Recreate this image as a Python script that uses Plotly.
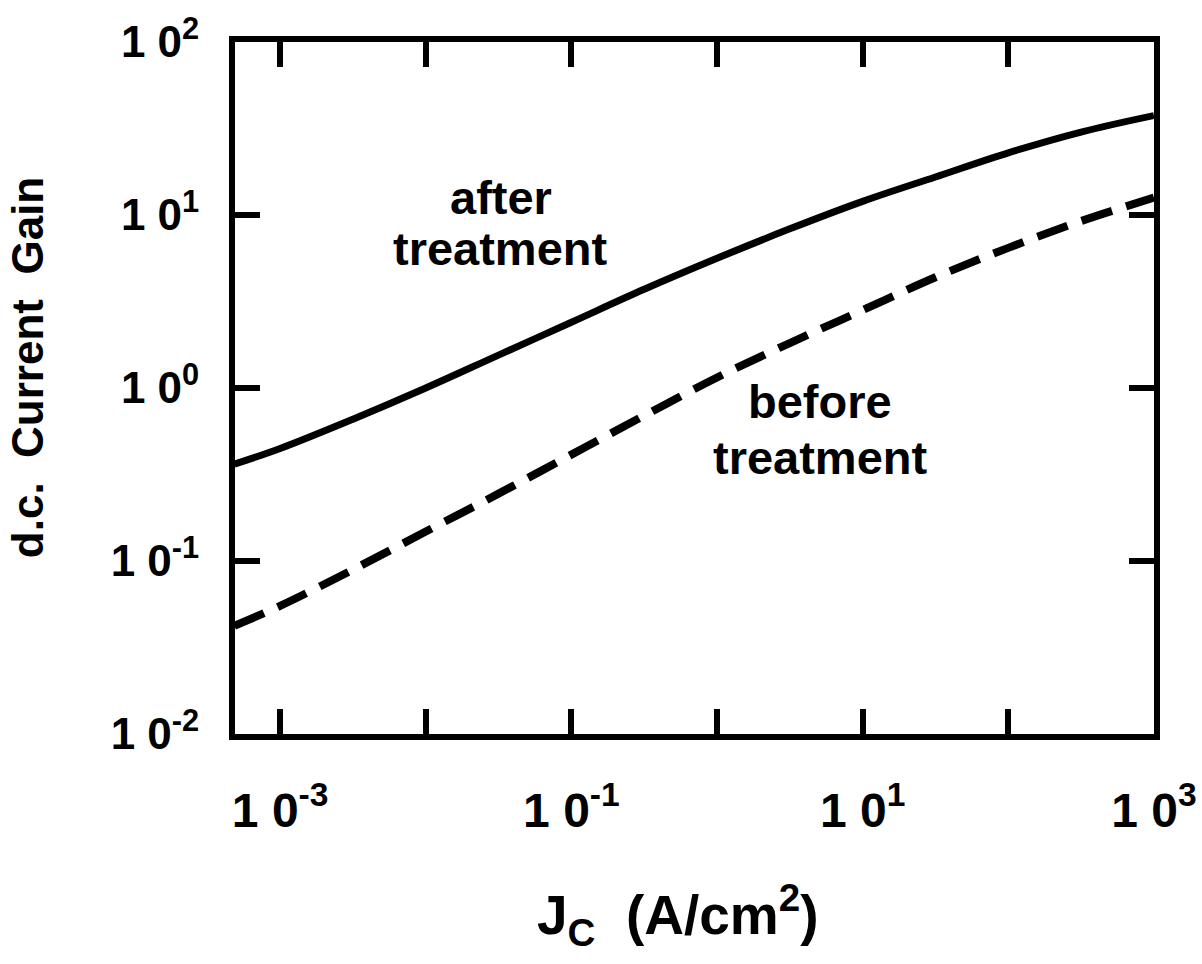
import plotly.graph_objects as go

# Current density J_C (A/cm^2)
jc = [0.000485, 0.001, 0.00316, 0.01, 0.0316, 0.1, 0.316, 1.0, 3.16, 10.0, 31.6, 100.0, 316.0, 1000.0]
# d.c. current gain after treatment (solid)
gain_after = [0.363, 0.447, 0.66, 1.0, 1.55, 2.40, 3.72, 5.62, 8.32, 12.0, 16.6, 22.9, 30.2, 37.6]
# d.c. current gain before treatment (dashed)
gain_before = [0.0422, 0.055, 0.0891, 0.148, 0.245, 0.412, 0.692, 1.15, 1.82, 2.82, 4.37, 6.46, 9.23, 12.6]

x_tickvals = [1e-3, 1e-2, 1e-1, 1e0, 1e1, 1e2, 1e3]
x_ticktext = ["1 0<sup>-3</sup>", "", "1 0<sup>-1</sup>", "", "1 0<sup>1</sup>", "", "1 0<sup>3</sup>"]
y_tickvals = [1e-2, 1e-1, 1e0, 1e1, 1e2]
y_ticktext = ["1 0<sup>-2</sup>", "1 0<sup>-1</sup>", "1 0<sup>0</sup>", "1 0<sup>1</sup>", "1 0<sup>2</sup>"]

FONT = "Liberation Sans, Arial, Helvetica, sans-serif"

fig = go.Figure()
fig.add_trace(go.Scatter(x=jc, y=gain_after, mode="lines", name="after treatment",
                         line=dict(color="black", width=7, shape="spline", smoothing=1.0)))
fig.add_trace(go.Scatter(x=jc, y=gain_before, mode="lines", name="before treatment",
                         line=dict(color="black", width=8, dash="32px,15px", shape="spline", smoothing=1.0)))

axis_common = dict(showline=True, linecolor="black", linewidth=6, mirror="ticks",
                   ticks="inside", ticklen=25, tickwidth=6, tickcolor="black",
                   showgrid=False, zeroline=False)

fig.update_xaxes(type="log", range=[-3.31, 3.0005], tickvals=x_tickvals, ticktext=x_ticktext,
                 tickfont=dict(family=FONT, size=48, color="black", weight="bold"),
                 ticklabelstandoff=29, **axis_common)
fig.update_yaxes(type="log", range=[-2.0005, 2.0005], tickvals=y_tickvals, ticktext=y_ticktext,
                 tickfont=dict(family=FONT, size=44, color="black", weight="bold"),
                 ticklabelstandoff=21, **axis_common)

ann_font = dict(family=FONT, size=47, color="black", weight="bold")
for txt, ax, ay in [("after", 0.289, 0.776), ("treatment", 0.289, 0.702),
                    ("before", 0.637, 0.480), ("treatment", 0.637, 0.400)]:
    fig.add_annotation(text=txt, x=ax, y=ay, xref="paper", yref="paper",
                       xanchor="center", yanchor="middle", showarrow=False, font=ann_font)

fig.add_annotation(text="d.c.  Current  Gain", textangle=-90, x=-0.225, y=0.529,
                   xref="paper", yref="paper", showarrow=False,
                   xanchor="center", yanchor="middle",
                   font=dict(family=FONT, size=44, color="black", weight="bold"))
fig.add_annotation(text="J<sub>C</sub>  (A/cm<sup>2</sup>)", x=0.482, y=-0.262,
                   xref="paper", yref="paper", showarrow=False,
                   xanchor="center", yanchor="middle",
                   font=dict(family=FONT, size=55, color="black", weight="bold"))

fig.update_layout(width=1202, height=964, showlegend=False,
                  margin=dict(l=235, r=48, t=42, b=230, autoexpand=False),
                  paper_bgcolor="white", plot_bgcolor="white")

fig.write_html("out.html", config={"displayModeBar": False, "staticPlot": True},
               post_script="document.body.style.margin='0';document.body.style.overflow='hidden';")
